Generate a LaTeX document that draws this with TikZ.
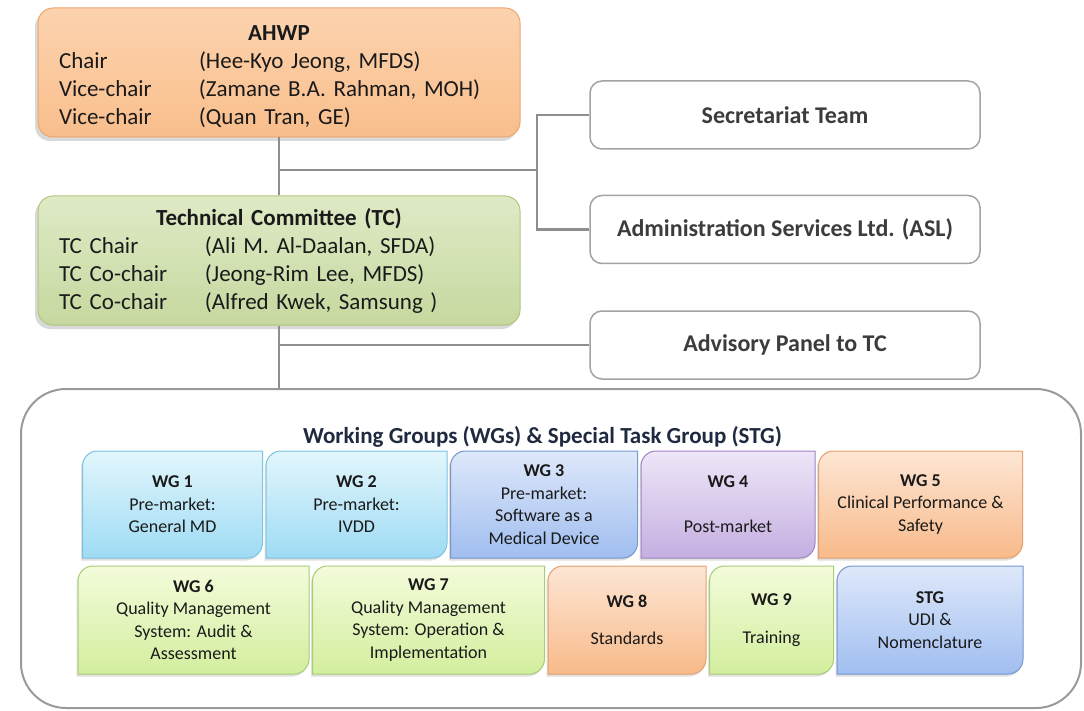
\documentclass[tikz,border=0pt]{standalone}
\usepackage{fontspec}
\setmainfont{Carlito}
\usetikzlibrary{positioning,calc,shadows,backgrounds}

% palette
\definecolor{ahwpTop}{HTML}{FCD3AE}
\definecolor{ahwpBot}{HTML}{F9BE8C}
\definecolor{ahwpLine}{HTML}{EDA56C}
\definecolor{tcTop}{HTML}{DFEAC6}
\definecolor{tcBot}{HTML}{C6D89F}
\definecolor{tcLine}{HTML}{AFC77C}
\definecolor{skyTop}{HTML}{E2F6FC}
\definecolor{skyBot}{HTML}{9EDBF4}
\definecolor{skyLine}{HTML}{7CC3E0}
\definecolor{periTop}{HTML}{DEE8FA}
\definecolor{periBot}{HTML}{A0BEF0}
\definecolor{periLine}{HTML}{7596CF}
\definecolor{lilacTop}{HTML}{EEE6F8}
\definecolor{lilacBot}{HTML}{C4AFE1}
\definecolor{lilacLine}{HTML}{9C86C2}
\definecolor{peachTop}{HTML}{FDE6D4}
\definecolor{peachBot}{HTML}{F8BA8A}
\definecolor{peachLine}{HTML}{E4A06E}
\definecolor{limeTop}{HTML}{F3FCDB}
\definecolor{limeBot}{HTML}{D3EE9E}
\definecolor{limeLine}{HTML}{A9CC76}
\definecolor{linkGray}{HTML}{8E8E8E}
\definecolor{sideLine}{HTML}{A3A3A3}
\definecolor{sideText}{HTML}{3C3C3C}
\definecolor{frameGray}{HTML}{9A9A9A}
\definecolor{titleNavy}{HTML}{1F2A40}
\definecolor{inkBlack}{HTML}{1A1A1A}

% one row of a chair list: role in a fixed column, then the name
\newcommand{\member}[3]{\makebox[#1][l]{#2}#3}

\begin{document}
\begin{tikzpicture}[x=1pt, y=-1pt,
    board/.style={rectangle, rounded corners=15pt, line width=1pt,
                  text width=440pt, align=left, minimum height=129pt,
                  inner xsep=21pt, text=inkBlack,
                  font=\fontsize{23}{28}\selectfont,
                  drop shadow={shadow xshift=-3pt, shadow yshift=-4pt, opacity=0.3}},
    sidebox/.style={rectangle, rounded corners=12pt, draw=sideLine, line width=1.5pt,
                    fill=white, minimum width=390pt, minimum height=68pt,
                    font=\fontsize{24}{28}\selectfont\bfseries, text=sideText},
    wgbox/.style={rectangle, minimum height=107pt, inner sep=0pt, outer sep=0pt,
                  align=center, text=inkBlack, font=\fontsize{18}{22.5}\selectfont},
    wgframe/.style={line width=1pt,
                    drop shadow={shadow xshift=-1.5pt, shadow yshift=-2.5pt, opacity=0.25}},
    link/.style={draw=linkGray, line width=2.5pt},
    node distance=3.5pt
]
\useasboundingbox (0,0) rectangle (1084,711);

% Chairs
\node[board, draw=ahwpLine, top color=ahwpTop, bottom color=ahwpBot] (ahwp) at (279,72.5) {
    \makebox[\linewidth]{\rule{0pt}{24pt}\bfseries AHWP}\\
    \member{140pt}{Chair}{(Hee-Kyo Jeong, MFDS)}\\
    \member{140pt}{Vice-chair}{(Zamane B.A. Rahman, MOH)}\\
    \member{140pt}{Vice-chair}{(Quan Tran, GE)}
};
\node[board, draw=tcLine, top color=tcTop, bottom color=tcBot, below=58pt of ahwp] (tc) {
    \makebox[\linewidth]{\bfseries Technical Committee (TC)}\\
    \member{146pt}{TC Chair}{(Ali M. Al-Daalan, SFDA)}\\
    \member{146pt}{TC Co-chair}{(Jeong-Rim Lee, MFDS)}\\
    \member{146pt}{TC Co-chair}{(Alfred Kwek, Samsung )}
};

% Support bodies on the right
\node[sidebox] (sec) at (785,115) {Secretariat Team};
\node[sidebox, below=45pt of sec] (asl) {Administration Services Ltd. (ASL)};
\node[sidebox, below=46pt of asl] (adv) {Advisory Panel to TC};

% Working groups frame
\node[draw=frameGray, line width=2pt, rounded corners=45pt,
      minimum width=1060pt, minimum height=319pt] (wgs) at (551,548.5) {};
\node[font=\fontsize{23}{27}\selectfont\bfseries, text=titleNavy] (wgtitle) at (542.5,437)
    {Working Groups (WGs) \& Special Task Group (STG)};

% Row 1
\node[wgbox, minimum width=180pt] (wg1) at (172.5,504.5) {{\bfseries WG 1}\\Pre-market:\\General MD};
\node[wgbox, minimum width=181pt, right=of wg1] (wg2) {{\bfseries WG 2}\\Pre-market:\\IVDD};
\node[wgbox, minimum width=187pt, right=of wg2] (wg3) {{\bfseries WG 3}\\Pre-market:\\Software as a\\Medical Device};
\node[wgbox, minimum width=174pt, right=of wg3] (wg4) {{\bfseries WG 4}\\[22.5pt]Post-market};
\node[wgbox, minimum width=204pt, right=of wg4] (wg5) {{\bfseries WG 5}\\Clinical Performance \&\\Safety};

% Row 2
\node[wgbox, minimum width=231pt, minimum height=108pt] (wg6) at (193.5,620) {{\bfseries WG 6}\\Quality Management\\System: Audit \&\\Assessment};
\node[wgbox, minimum width=232pt, minimum height=108pt, right=of wg6] (wg7) {{\bfseries WG 7}\\Quality Management\\System: Operation \&\\Implementation};
\node[wgbox, minimum width=158pt, minimum height=108pt, right=of wg7] (wg8) {{\bfseries WG 8}\\[15pt]Standards};
\node[wgbox, minimum width=124pt, minimum height=108pt, right=of wg8] (wg9) {{\bfseries WG 9}\\[15pt]Training};
\node[wgbox, minimum width=186pt, minimum height=108pt, right=of wg9] (stg) {{\bfseries STG}\\UDI \&\\Nomenclature};

% Group tiles: rounded at top left and bottom right only
\begin{scope}[on background layer]
\foreach \wg/\tone in {wg1/sky, wg2/sky, wg3/peri, wg4/lilac, wg5/peach,
                       wg6/lime, wg7/lime, wg8/peach, wg9/lime, stg/peri}
    \draw[wgframe, draw=\tone Line, top color=\tone Top, bottom color=\tone Bot]
        (\wg.west) [rounded corners=15pt] -- (\wg.north west) [sharp corners]
        -- (\wg.north east) [rounded corners=15pt] -- (\wg.south east)
        [sharp corners] -- (\wg.south west) -- cycle;
\end{scope}

% Reporting lines
\coordinate (fork) at (279,170);
\coordinate (bus) at (537,170);
\draw[link] (ahwp.south) -- (ahwp.south |- tc.north);
\draw[link] (fork) -- (bus);
\draw[link] (sec.west) -| (bus) |- (asl.west);
\draw[link] (tc.south) -- (tc.south |- wgs.north);
\draw[link] (adv.west) -- (adv.west -| tc.south);

\end{tikzpicture}
\end{document}
